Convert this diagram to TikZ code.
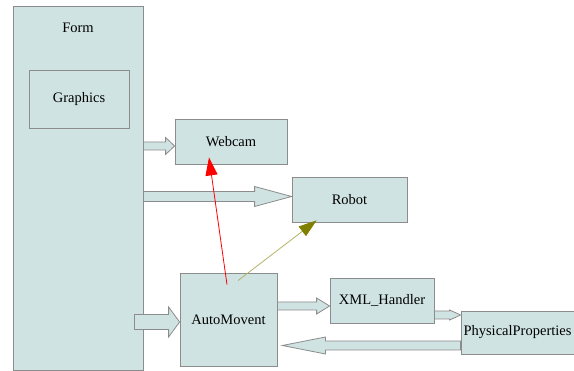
\documentclass[tikz,border=0pt]{standalone}
\usepackage{fontspec}
\setmainfont{Liberation Serif}
\newfontfamily\boxfont{Liberation Serif}
\usetikzlibrary{arrows.meta,calc}

\definecolor{boxfill}{RGB}{207,228,226}
\definecolor{boxline}{RGB}{140,140,140}
\definecolor{olivearrow}{RGB}{128,128,0}

% horizontal block arrow: start, tip, shaft half width, head half width, head length
\newcommand{\blockarrow}[5]{%
  \draw[blk] let \p1=(#1), \p2=(#2), \n1={sign(\x2-\x1)} in
    (\x1,{\y2+#3}) -- ({\x2-\n1*#5},{\y2+#3}) -- ({\x2-\n1*#5},{\y2+#4})
    -- (\x2,\y2) -- ({\x2-\n1*#5},{\y2-#4}) -- ({\x2-\n1*#5},{\y2-#3})
    -- (\x1,{\y2-#3}) -- cycle;}

\begin{document}
\begin{tikzpicture}[
  x=1pt, y=-1pt,
  font=\boxfont\fontsize{14.5}{16}\selectfont,
  box/.style={draw=boxline, fill=boxfill, line width=0.8pt, inner sep=0pt},
  blk/.style={draw=boxline, fill=boxfill, line width=0.8pt, line join=miter},
  call/.style={-{Triangle[length=18pt,width=12pt]}, line width=0.8pt}
]
  \useasboundingbox (0,0) rectangle (574,371);

  \node[box, minimum width=130, minimum height=364] (form) at (78,188) {};
  \node (formlabel) at (78,28) {Form};
  \node[box, minimum width=100, minimum height=58] (graphics) at (79,99) {Graphics};
  \node[box, minimum width=112, minimum height=45] (webcam) at (231,141.5) {Webcam};
  \node[box, minimum width=115, minimum height=45] (robot) at (349.5,199.5) {Robot};
  \node[box, minimum width=97, minimum height=93] (automovent) at (228.5,319.5) {AutoMovent};
  \node[box, minimum width=104, minimum height=45] (xml) at (382,300.5) {XML\_Handler};
  \node[box, minimum width=113, minimum height=43] (phys) at (517.5,332.5) {PhysicalProperties};

  \coordinate (camin) at ($(webcam.west)+(0,4.5)$);
  \coordinate (botin) at ($(robot.west)+(0,-3)$);
  \coordinate (autoin) at ($(automovent.west)+(0,2.5)$);
  \coordinate (formout) at ($(form.east|-autoin)+(-9,0)$);
  \coordinate (xmlin) at ($(xml.west)+(0,5.5)$);
  \coordinate (physin) at ($(phys.west|-xml.east)+(0,14.5)$);
  \coordinate (physout) at ($(phys.west)+(0,13)$);
  \coordinate (autoback) at ($(automovent.east|-physout)+(5,0)$);

  \blockarrow{form.east|-camin}{camin}{4pt}{8.5pt}{9pt}
  \blockarrow{form.east|-botin}{botin}{5pt}{10pt}{37pt}
  \blockarrow{formout}{autoin}{7.5pt}{15pt}{11pt}
  \blockarrow{automovent.east|-xmlin}{xmlin}{4pt}{8pt}{13pt}
  \blockarrow{xml.east|-physin}{physin}{4pt}{5pt}{11pt}
  \blockarrow{physout}{autoback}{4.5pt}{8.5pt}{43pt}

  \coordinate (redfoot) at ($(automovent.north)+(-1.5,12)$);
  \coordinate (olivefoot) at ($(automovent.north)+(9.5,8)$);
  \draw[call, red] (redfoot) -- ($(webcam.south)+(-22,-7)$);
  \draw[call, olivearrow!60, -{Triangle[length=18pt,width=12pt,fill=olivearrow,color=olivearrow]}]
    (olivefoot) -- ($(robot.south west)+(25,-2)$);
\end{tikzpicture}
\end{document}
